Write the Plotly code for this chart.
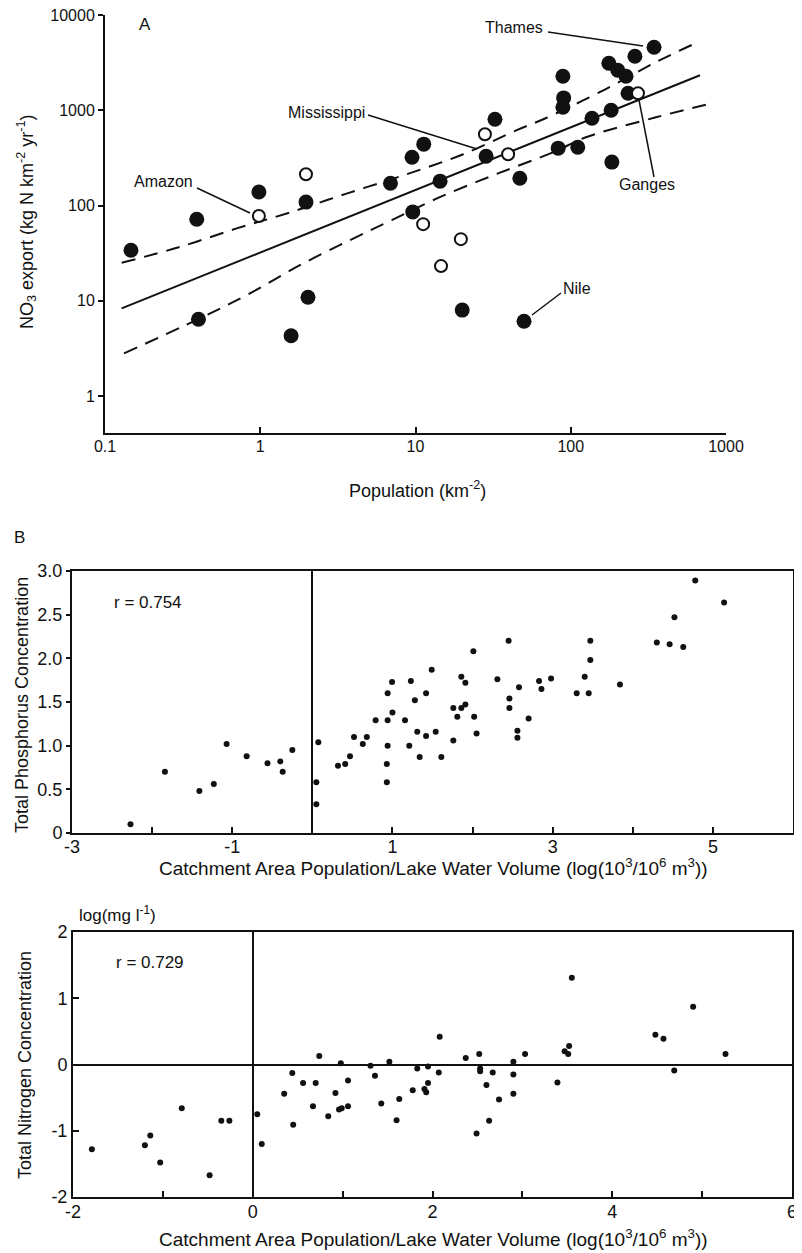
import plotly.graph_objects as go

# The page body keeps the browser's default 8px margin, so the figure is drawn
# 8px smaller and every layout position below is shifted by that offset.
VIEW_W, VIEW_H = 802, 1253
OFF = 8
W, H = VIEW_W - OFF, VIEW_H - OFF
FONT = "Liberation Sans, Arial, sans-serif"
INK = "#111111"

# ---------------- Panel A data ----------------
filled_pop = [0.147, 0.39, 0.98, 1.97, 6.9, 9.5, 11.3, 14.4, 9.6, 32.5, 28.5, 47, 83, 111,
              89, 90, 89, 137, 182, 184, 176, 201, 227, 234, 259, 344, 0.40, 1.58, 2.03, 20, 50]
filled_no3 = [34, 72, 139, 109, 172, 323, 443, 181, 86, 809, 331, 194, 402, 411,
              2290, 1355, 1081, 829, 1006, 287, 3130, 2650, 2290, 1517, 3715, 4616, 6.4, 4.3, 10.9, 8.0, 6.1]
open_pop = [0.98, 1.97, 11.2, 19.6, 14.6, 28, 39.5, 271]
open_no3 = [78, 214, 64, 44.5, 23.2, 563, 347, 1517]

fit_pop = [0.128, 680]
fit_no3 = [8.33, 2344]
upper_pop = [0.128, 0.304, 0.705, 1.48, 3.60, 8.78, 20.3, 44.9, 68.2, 166, 366, 616]
upper_no3 = [25.1, 36.9, 57.7, 82.8, 134, 214, 347, 621, 823, 1660, 3311, 4960]
lower_pop = [0.1325, 0.409, 0.859, 1.80, 3.78, 7.03, 14.2, 33.0, 78.0, 124, 349, 813]
lower_no3 = [2.81, 6.55, 12.0, 23.7, 43.4, 70.4, 122, 214, 367, 520, 843, 1191]

a_xticks = [0.1, 1, 10, 100, 1000]
a_xtext = ["0.1", "1", "10", "100", "1000"]
a_yticks = [1, 10, 100, 1000, 10000]
a_ytext = ["1", "10", "100", "1000", "10000"]

# ---------------- Panel B data ----------------
p_x = [-2.27, -1.84, -1.41, -1.23, -1.07, -0.82, -0.56, -0.40, -0.37, -0.25,
       0.075, 0.05, 0.05, 0.32, 0.41, 0.47, 0.52, 0.63, 0.68, 0.79, 0.93, 0.93, 0.94, 0.94, 0.94, 0.995, 1.00,
       1.157, 1.21, 1.23, 1.28, 1.31, 1.34, 1.42, 1.42, 1.49, 1.54, 1.61, 1.76, 1.76, 1.81, 1.86, 1.86,
       1.91, 1.91, 2.01, 2.02, 2.05, 2.31, 2.45, 2.46, 2.46, 2.58, 2.56, 2.56, 2.70, 2.83, 2.86, 2.98,
       3.30, 3.40, 3.45, 3.47, 3.47, 3.84, 4.30, 4.46, 4.52, 4.63, 4.78, 5.14]
p_y = [0.10, 0.70, 0.48, 0.56, 1.02, 0.88, 0.80, 0.82, 0.70, 0.95,
       1.04, 0.58, 0.33, 0.77, 0.79, 0.88, 1.10, 1.02, 1.10, 1.29, 0.79, 0.58, 1.00, 1.29, 1.60, 1.73, 1.38,
       1.29, 1.00, 1.74, 1.52, 1.16, 0.87, 1.60, 1.11, 1.87, 1.16, 0.87, 1.43, 1.06, 1.33, 1.79, 1.43,
       1.72, 1.47, 2.08, 1.33, 1.14, 1.76, 2.20, 1.54, 1.43, 1.67, 1.17, 1.09, 1.31, 1.74, 1.65, 1.77,
       1.60, 1.79, 1.60, 1.98, 2.20, 1.70, 2.18, 2.16, 2.47, 2.13, 2.89, 2.64]
b_xticks = [-3, -2, -1, 0, 1, 2, 3, 4, 5, 6]
b_xtext = ["-3", "", "-1", "", "1", "", "3", "", "5", ""]
b_yticks = [0, 0.5, 1.0, 1.5, 2.0, 2.5, 3.0]
b_ytext = ["0", "0.5", "1.0", "1.5", "2.0", "2.5", "3.0"]

# ---------------- Panel C data ----------------
n_x = [-1.79, -1.20, -1.14, -1.03, -0.79, -0.48, -0.35, -0.26, 0.05, 0.10,
       0.35, 0.44, 0.45, 0.56, 0.67, 0.70, 0.74, 0.84, 0.92, 0.96, 0.99, 0.98, 1.06, 1.06,
       1.31, 1.36, 1.43, 1.52, 1.60, 1.63, 1.78, 1.83, 1.91, 1.93, 1.95, 1.95, 2.07, 2.08,
       2.37, 2.49, 2.52, 2.53, 2.53, 2.60, 2.63, 2.67, 2.74, 2.90, 2.90, 2.90, 3.03,
       3.39, 3.47, 3.51, 3.52, 3.55, 4.48, 4.57, 4.69, 4.90, 5.26]
n_y = [-1.28, -1.22, -1.07, -1.48, -0.66, -1.67, -0.85, -0.85, -0.75, -1.20,
       -0.44, -0.13, -0.91, -0.28, -0.63, -0.28, 0.13, -0.78, -0.43, -0.68, -0.66, 0.02, -0.24, -0.63,
       -0.02, -0.17, -0.59, 0.04, -0.84, -0.52, -0.39, -0.06, -0.37, -0.42, -0.28, -0.03, -0.12, 0.42,
       0.10, -1.04, 0.16, -0.06, -0.10, -0.31, -0.85, -0.12, -0.53, 0.04, -0.15, -0.44, 0.16,
       -0.27, 0.20, 0.16, 0.28, 1.31, 0.45, 0.39, -0.09, 0.87, 0.16]
c_xticks = [-2, -1, 0, 1, 2, 3, 4, 5, 6]
c_xtext = ["-2", "", "0", "", "2", "", "4", "", "6"]
c_yticks = [-2, -1, 0, 1, 2]
c_ytext = ["-2", "-1", "0", "1", "2"]


def px(x):
    return (x - OFF) / W


def py(y):
    return 1 - (y - OFF) / H


fig = go.Figure()

# Panel A
fig.add_trace(go.Scatter(x=upper_pop, y=upper_no3, mode="lines", line=dict(color=INK, width=2, dash="14px,9px", shape="spline"), xaxis="x", yaxis="y"))
fig.add_trace(go.Scatter(x=lower_pop, y=lower_no3, mode="lines", line=dict(color=INK, width=2, dash="14px,9px", shape="spline"), xaxis="x", yaxis="y"))
fig.add_trace(go.Scatter(x=fit_pop, y=fit_no3, mode="lines", line=dict(color=INK, width=2), xaxis="x", yaxis="y"))
fig.add_trace(go.Scatter(x=filled_pop, y=filled_no3, mode="markers", marker=dict(color=INK, size=15, line=dict(width=0)), xaxis="x", yaxis="y"))
fig.add_trace(go.Scatter(x=open_pop, y=open_no3, mode="markers", marker=dict(symbol="circle", color="white", size=12, line=dict(color=INK, width=2)), xaxis="x", yaxis="y"))

# Panel B
fig.add_trace(go.Scatter(x=p_x, y=p_y, mode="markers", marker=dict(color=INK, size=6), xaxis="x2", yaxis="y2"))
# Panel C
fig.add_trace(go.Scatter(x=n_x, y=n_y, mode="markers", marker=dict(color=INK, size=6), xaxis="x3", yaxis="y3"))

axis_common = dict(showline=True, linecolor=INK, linewidth=2, showgrid=False, color=INK,
                   tickcolor=INK, tickwidth=1.5, tickmode="array", automargin=False,
                   ticklabeloverflow="allow")

fig.update_layout(
    width=W, height=H, autosize=False,
    margin=dict(l=0, r=0, t=0, b=0, pad=0),
    paper_bgcolor="white", plot_bgcolor="white",
    showlegend=False,
    font=dict(family=FONT, color=INK),
    xaxis=dict(axis_common, type="log", range=[-1, 3], domain=[px(105), px(726)], anchor="y",
               tickvals=a_xticks, ticktext=a_xtext, ticks="inside", ticklen=6, zeroline=False,
               tickfont=dict(size=16), ticklabelstandoff=-2),
    yaxis=dict(axis_common, type="log", range=[-0.388, 4.003], domain=[py(433), py(15)], anchor="x",
               tickvals=a_yticks, ticktext=a_ytext, ticks="outside", ticklen=5, zeroline=False,
               tickfont=dict(size=16)),
    xaxis2=dict(axis_common, range=[-3, 6], domain=[px(72), px(793)], anchor="y2", mirror=True,
                tickvals=b_xticks, ticktext=b_xtext, ticks="inside", ticklen=6,
                zeroline=True, zerolinecolor=INK, zerolinewidth=2, tickfont=dict(size=18),
                ticklabelstandoff=-4),
    yaxis2=dict(axis_common, range=[0, 3], domain=[py(833), py(571)], anchor="x2", mirror=True,
                tickvals=b_yticks, ticktext=b_ytext, ticks="outside", ticklen=4, zeroline=False,
                tickfont=dict(size=18)),
    xaxis3=dict(axis_common, range=[-2, 6], domain=[px(73), px(792)], anchor="y3", mirror=True,
                tickvals=c_xticks, ticktext=c_xtext, ticks="inside", ticklen=6,
                zeroline=True, zerolinecolor=INK, zerolinewidth=2, tickfont=dict(size=18),
                ticklabelstandoff=-3),
    yaxis3=dict(axis_common, range=[-2, 2], domain=[py(1197), py(932)], anchor="x3", mirror=True,
                tickvals=c_yticks, ticktext=c_ytext, ticks="inside", ticklen=6,
                zeroline=True, zerolinecolor=INK, zerolinewidth=1.5, tickfont=dict(size=18)),
)

ann = []


def text(x, y, s, size=16, angle=0, xanchor="center"):
    ann.append(dict(x=px(x), y=py(y), xref="paper", yref="paper", text=s, showarrow=False,
                    font=dict(size=size, family=FONT, color=INK), textangle=angle,
                    xanchor=xanchor, yanchor="middle"))


# Panel A labels
text(145, 24, "A", 17)
text(514, 28, "Thames", 16)
text(326, 112, "Mississippi", 16)
text(163, 181, "Amazon", 16)
text(647, 185, "Ganges", 16)
text(577, 288, "Nile", 16)
text(418, 489, "Population (km<sup>-2</sup>)", 18)
text(26, 222, "NO<sub>3</sub> export (kg N km<sup>-2</sup> yr<sup>-1</sup>)", 18, -90)

# Panel B labels
text(19, 537, "B", 17)
text(148, 603, "r = 0.754", 17)
text(433, 867, "Catchment Area Population/Lake Water Volume (log(10<sup>3</sup>/10<sup>6</sup> m<sup>3</sup>))", 19)
text(22, 705, "Total Phosphorus Concentration", 18, -90)

# Panel C labels
text(117, 914, "log(mg l<sup>-1</sup>)", 17)
text(150, 962, "r = 0.729", 17)
text(433, 1238, "Catchment Area Population/Lake Water Volume (log(10<sup>3</sup>/10<sup>6</sup> m<sup>3</sup>))", 19)
text(25, 1065, "Total Nitrogen Concentration", 18, -90)

fig.update_layout(annotations=ann)

# Leader lines for river labels (paper coordinates)
leaders = [((548, 32), (643, 46)), ((368, 115), (477, 149)), ((197, 188), (250, 213)),
           ((639, 100), (654, 177)), ((532, 315), (561, 293))]
shapes = []
for (x0, y0), (x1, y1) in leaders:
    shapes.append(dict(type="line", xref="paper", yref="paper", x0=px(x0), y0=py(y0), x1=px(x1), y1=py(y1),
                       line=dict(color=INK, width=1.5)))
fig.update_layout(shapes=shapes)

fig.write_html("out.html")
